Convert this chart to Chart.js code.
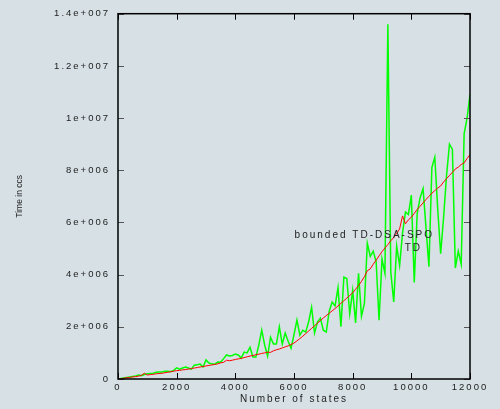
<!DOCTYPE html>
<html>
<head>
<meta charset="utf-8">
<script src="https://cdn.jsdelivr.net/npm/chart.js@4"></script>
<style>
  html, body { margin: 0; padding: 0; background: #d6e0e5; }
  #wrap { width: 500px; height: 409px; }
</style>
</head>
<body>
<div id="wrap"><canvas id="myChart" width="500" height="409"></canvas></div>
<script>
// number of states (x), one sample every 100 states
const states = [
  0, 100, 200, 300, 400, 500, 600, 700, 800, 900,
  1000, 1100, 1200, 1300, 1400, 1500, 1600, 1700, 1800, 1900,
  2000, 2100, 2200, 2300, 2400, 2500, 2600, 2700, 2800, 2900,
  3000, 3100, 3200, 3300, 3400, 3500, 3600, 3700, 3800, 3900,
  4000, 4100, 4200, 4300, 4400, 4500, 4600, 4700, 4800, 4900,
  5000, 5100, 5200, 5300, 5400, 5500, 5600, 5700, 5800, 5900,
  6000, 6100, 6200, 6300, 6400, 6500, 6600, 6700, 6800, 6900,
  7000, 7100, 7200, 7300, 7400, 7500, 7600, 7700, 7800, 7900,
  8000, 8100, 8200, 8300, 8400, 8500, 8600, 8700, 8800, 8900,
  9000, 9100, 9200, 9300, 9400, 9500, 9600, 9700, 9800, 9900,
  10000, 10100, 10200, 10300, 10400, 10500, 10600, 10700, 10800, 10900,
  11000, 11100, 11200, 11300, 11400, 11500, 11600, 11700, 11800, 11900,
  12000
];

// time in ccs, in millions
const boundedTime = [
  0, 0.01, 0.03, 0.05, 0.06, 0.08, 0.09, 0.11, 0.14, 0.22,
  0.15, 0.17, 0.18, 0.20, 0.21, 0.22, 0.24, 0.26, 0.28, 0.30,
  0.32, 0.33, 0.35, 0.36, 0.38, 0.40, 0.42, 0.44, 0.46, 0.48,
  0.50, 0.52, 0.54, 0.56, 0.58, 0.62, 0.64, 0.72, 0.70, 0.72,
  0.75, 0.77, 0.79, 0.82, 0.85, 0.88, 0.90, 0.93, 0.95, 0.98,
  1.00, 1.03, 1.02, 1.08, 1.12, 1.15, 1.19, 1.23, 1.27, 1.32,
  1.38, 1.46, 1.55, 1.64, 1.74, 1.84, 1.94, 2.04, 2.14, 2.24,
  2.34, 2.43, 2.52, 2.61, 2.70, 2.80, 2.90, 3.00, 3.10, 3.20,
  3.30, 3.44, 3.58, 3.74, 3.92, 4.15, 4.22, 4.40, 4.55, 4.72,
  4.88, 5.02, 5.15, 5.30, 5.42, 5.58, 5.75, 6.25, 5.95, 6.10,
  6.20, 6.35, 6.50, 6.62, 6.75, 6.88, 7.00, 7.12, 7.22, 7.32,
  7.40, 7.55, 7.68, 7.80, 7.92, 8.05, 8.12, 8.22, 8.28, 8.45,
  8.60
];

const tdTime = [
  0, 0.02, 0.04, 0.06, 0.08, 0.10, 0.12, 0.15, 0.13, 0.17,
  0.20, 0.21, 0.22, 0.26, 0.27, 0.27, 0.30, 0.30, 0.28, 0.33,
  0.43, 0.38, 0.42, 0.46, 0.42, 0.38, 0.53, 0.55, 0.57, 0.46,
  0.73, 0.61, 0.58, 0.57, 0.65, 0.64, 0.78, 0.92, 0.88, 0.90,
  0.96, 0.92, 0.80, 1.03, 1.00, 1.22, 0.84, 0.84, 1.30, 1.87,
  1.30, 0.88, 1.60, 1.34, 1.34, 2.00, 1.34, 1.76, 1.45, 1.18,
  1.70, 2.26, 1.68, 1.87, 1.80, 2.20, 2.75, 1.76, 2.18, 2.33,
  1.87, 1.80, 2.60, 2.95, 2.80, 3.50, 2.00, 3.90, 3.85, 2.50,
  3.40, 2.15, 4.05, 2.40, 2.90, 5.20, 4.70, 4.90, 4.50, 2.25,
  4.60, 4.05, 13.60, 4.10, 2.95, 5.10, 4.35, 5.60, 6.40, 6.30,
  7.05, 3.70, 6.35, 6.95, 7.30, 5.80, 4.30, 8.10, 8.50, 6.50,
  4.80, 6.20, 7.80, 9.00, 8.80, 4.25, 4.90, 4.40, 9.40, 10.00,
  10.90
];

const seriesNames = ["bounded TD-DSA-SPO", "TD"];
const xTitle = "Number of states";
const yTitle = "Time in ccs";
const xTicks = [0, 2000, 4000, 6000, 8000, 10000, 12000];
const yTickLabels = ["0", "2e+006", "4e+006", "6e+006", "8e+006", "1e+007", "1.2e+007", "1.4e+007"];
const MILLION = 1e6;

const pts = (ys) => states.map((x, i) => ({ x: x, y: ys[i] * MILLION }));

const spacing = {
  id: "spacing",
  beforeUpdate(chart) { chart.ctx.letterSpacing = "2px"; },
  beforeDraw(chart) { chart.ctx.letterSpacing = "2px"; }
};

// gnuplot style frame, inward ticks on all four sides, key text and y title
const frame = {
  id: "frame",
  afterDraw(chart) {
    const c = chart.ctx;
    const a = chart.chartArea;
    const xs = chart.scales.x, ys = chart.scales.y;
    c.save();
    c.strokeStyle = "#000";
    c.lineWidth = 1;
    xs.ticks.forEach(t => {
      const p = Math.round(xs.getPixelForValue(t.value)) + 0.5;
      c.beginPath();
      c.moveTo(p, a.bottom); c.lineTo(p, a.bottom - 6);
      c.moveTo(p, a.top); c.lineTo(p, a.top + 6);
      c.stroke();
    });
    c.strokeStyle = "#555";
    ys.ticks.forEach(t => {
      const p = Math.round(ys.getPixelForValue(t.value)) + 0.5;
      c.beginPath();
      c.moveTo(a.left, p); c.lineTo(a.left + 6, p);
      c.moveTo(a.right, p); c.lineTo(a.right - 6, p);
      c.stroke();
    });
    c.strokeStyle = "#000";
    c.lineWidth = 1.5;
    c.strokeRect(a.left, a.top, a.right - a.left, a.bottom - a.top);

    c.fillStyle = "#222";
    c.font = "10px 'Liberation Sans', Arial, sans-serif";
    c.textAlign = "right";
    c.textBaseline = "middle";
    c.fillText(seriesNames[0], a.right - 36, a.top + 222);
    c.fillText(seriesNames[1], a.right - 48, a.top + 235);

    // y title: condensed, no letter spacing
    c.letterSpacing = "0px";
    c.font = "8.5px 'Liberation Sans', Arial, sans-serif";
    c.textAlign = "center";
    c.translate(20, (a.top + a.bottom) / 2);
    c.rotate(-Math.PI / 2);
    c.fillText(yTitle, 0, 0);
    c.restore();
  }
};

const ctx = document.getElementById("myChart").getContext("2d");

const config = {
  type: "line",
  data: {
    datasets: [
      {
        label: seriesNames[0],
        data: pts(boundedTime),
        borderColor: "#ff0000",
        borderWidth: 1,
        pointRadius: 0,
        tension: 0
      },
      {
        label: seriesNames[1],
        data: pts(tdTime),
        borderColor: "#00ff00",
        borderWidth: 1.5,
        pointRadius: 0,
        tension: 0
      }
    ]
  },
  options: {
    responsive: false,
    animation: false,
    devicePixelRatio: 1,
    layout: { padding: { left: 0, right: 30, top: 13, bottom: 0 } },
    plugins: { legend: { display: false }, tooltip: { enabled: false } },
    scales: {
      x: {
        type: "linear",
        min: 0,
        max: 12000,
        afterBuildTicks: (s) => { s.ticks = xTicks.map(v => ({ value: v })); },
        grid: { display: false, drawTicks: false },
        border: { display: false },
        ticks: {
          color: "#222",
          padding: 3,
          maxRotation: 0,
          callback: (v) => String(v),
          font: { family: "'Liberation Sans', Arial, sans-serif", size: 9.5 }
        },
        title: {
          display: true,
          text: xTitle,
          color: "#222",
          padding: { top: 0, bottom: 4 },
          font: { family: "'Liberation Sans', Arial, sans-serif", size: 10 }
        },
        afterFit: (s) => { s.height = 30; }
      },
      y: {
        min: 0,
        max: 14 * MILLION,
        ticks: {
          stepSize: 2 * MILLION,
          color: "#222",
          padding: 8,
          callback: (v, i) => yTickLabels[i],
          font: { family: "'Liberation Sans', Arial, sans-serif", size: 9.5 }
        },
        grid: { display: false, drawTicks: false },
        border: { display: false },
        title: { display: false },
        afterFit: (s) => { s.width = 118; }
      }
    }
  },
  plugins: [spacing, frame]
};

const myChart = new Chart(ctx, config);
</script>
</body>
</html>
